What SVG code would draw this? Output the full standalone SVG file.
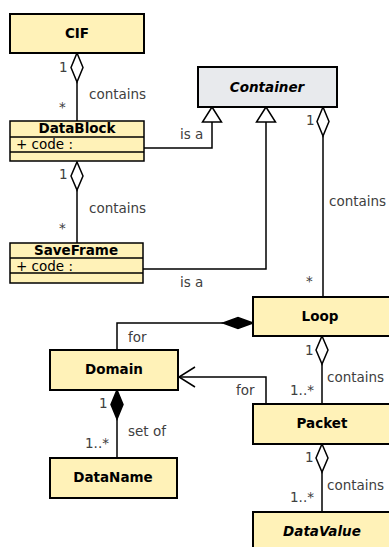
<svg xmlns="http://www.w3.org/2000/svg" width="389" height="547" viewBox="0 0 389 547">
<style>
.box{fill:#fff2b8;stroke:#000;stroke-width:2}
.sbox{fill:#fff2b8;stroke:#000;stroke-width:1.5}
.abs{fill:#e8eaed;stroke:#000;stroke-width:2}
.name{font-family:"DejaVu Sans",sans-serif;font-weight:bold;font-size:13.5px;text-anchor:middle;fill:#000}
.sname{font-family:"DejaVu Sans",sans-serif;font-weight:bold;font-size:13.5px;text-anchor:middle;fill:#000}
.attr{font-family:"DejaVu Sans",sans-serif;font-size:13.5px;fill:#000}
.lbl{font-family:"DejaVu Sans",sans-serif;font-size:13.5px;fill:#404040}
.ln{fill:none;stroke:#000;stroke-width:1.5}
.hd{fill:#fff;stroke:#000;stroke-width:1.5}
.fd{fill:#000;stroke:#000;stroke-width:1.5}
</style>
<rect width="389" height="547" fill="#fff"/>
<g id="connectors">
  <!-- CIF contains DataBlock -->
  <line class="ln" x1="77" y1="82" x2="77" y2="121"/>
  <path class="hd" d="M77,53 L83,67.5 L77,82 L71,67.5 Z"/>
  <text class="lbl" x="59" y="72">1</text>
  <text class="lbl" x="59" y="112">*</text>
  <text class="lbl" x="89" y="99">contains</text>
  <!-- DataBlock contains SaveFrame -->
  <line class="ln" x1="77" y1="190" x2="77" y2="243"/>
  <path class="hd" d="M77,162 L83,176 L77,190 L71,176 Z"/>
  <text class="lbl" x="59" y="179">1</text>
  <text class="lbl" x="59" y="233">*</text>
  <text class="lbl" x="89" y="213">contains</text>
  <!-- DataBlock is a Container -->
  <polyline class="ln" points="144,148 212,148 212,122"/>
  <path class="hd" d="M212,107 L221.5,122 L202.5,122 Z"/>
  <text class="lbl" x="180" y="139">is a</text>
  <!-- SaveFrame is a Container -->
  <polyline class="ln" points="143,269 266,269 266,122"/>
  <path class="hd" d="M266,107 L275.5,122 L256.5,122 Z"/>
  <text class="lbl" x="180" y="287">is a</text>
  <!-- Container contains Loop -->
  <line class="ln" x1="323" y1="136" x2="323" y2="297"/>
  <path class="hd" d="M323,107 L329,121.5 L323,136 L317,121.5 Z"/>
  <text class="lbl" x="306" y="125">1</text>
  <text class="lbl" x="306" y="286">*</text>
  <text class="lbl" x="329" y="206">contains</text>
  <!-- Loop for Domain -->
  <polyline class="ln" points="223,323 117,323 117,350"/>
  <path class="fd" d="M253,323 L238,317.5 L223,323 L238,328.5 Z"/>
  <text class="lbl" x="128" y="342">for</text>
  <!-- Domain set of DataName -->
  <line class="ln" x1="117" y1="419" x2="117" y2="458"/>
  <path class="fd" d="M117,390 L123,404.5 L117,419 L111,404.5 Z"/>
  <text class="lbl" x="99" y="408">1</text>
  <text class="lbl" x="85" y="448">1..*</text>
  <text class="lbl" x="128" y="436">set of</text>
  <!-- Loop contains Packet -->
  <line class="ln" x1="322" y1="364" x2="322" y2="404"/>
  <path class="hd" d="M322,336 L328,350 L322,364 L316,350 Z"/>
  <text class="lbl" x="305" y="355">1</text>
  <text class="lbl" x="290" y="395">1..*</text>
  <text class="lbl" x="327" y="382">contains</text>
  <!-- Packet for Domain -->
  <polyline class="ln" points="266,404 266,377 179,377"/>
  <polyline class="ln" points="195,367 179,377 195,387"/>
  <text class="lbl" x="236" y="395">for</text>
  <!-- Packet contains DataValue -->
  <line class="ln" x1="322" y1="472" x2="322" y2="512"/>
  <path class="hd" d="M322,444 L328,458 L322,472 L316,458 Z"/>
  <text class="lbl" x="305" y="462">1</text>
  <text class="lbl" x="290" y="502">1..*</text>
  <text class="lbl" x="327" y="490">contains</text>
</g>
<g id="CIF">
  <rect class="box" x="10" y="14" width="134" height="39"/>
  <text class="name" x="77" y="38">CIF</text>
</g>
<g id="DataBlock">
  <rect class="sbox" x="10" y="121" width="134" height="40"/>
  <line class="ln" x1="10" y1="137" x2="144" y2="137"/>
  <line class="ln" x1="10" y1="152" x2="144" y2="152"/>
  <text class="sname" x="77" y="133">DataBlock</text>
  <text class="attr" x="16" y="149">+ code :</text>
</g>
<g id="SaveFrame">
  <rect class="sbox" x="10" y="243" width="133" height="40"/>
  <line class="ln" x1="10" y1="258" x2="143" y2="258"/>
  <line class="ln" x1="10" y1="273" x2="143" y2="273"/>
  <text class="sname" x="76" y="255">SaveFrame</text>
  <text class="attr" x="16" y="271">+ code :</text>
</g>
<g id="Container">
  <rect class="abs" x="198" y="67" width="139" height="40"/>
  <text class="name" x="267" y="92" font-style="italic">Container</text>
</g>
<g id="Loop">
  <rect class="box" x="253" y="297" width="140" height="39"/>
  <text class="name" x="320" y="321">Loop</text>
</g>
<g id="Domain">
  <rect class="box" x="50" y="350" width="128" height="40"/>
  <text class="name" x="114" y="374">Domain</text>
</g>
<g id="DataName">
  <rect class="box" x="50" y="458" width="127" height="40"/>
  <text class="name" x="113" y="482">DataName</text>
</g>
<g id="Packet">
  <rect class="box" x="253" y="404" width="140" height="40"/>
  <text class="name" x="322" y="428">Packet</text>
</g>
<g id="DataValue">
  <rect class="box" x="253" y="512" width="140" height="45"/>
  <text class="name" x="322" y="536" font-style="italic">DataValue</text>
</g>
</svg>
